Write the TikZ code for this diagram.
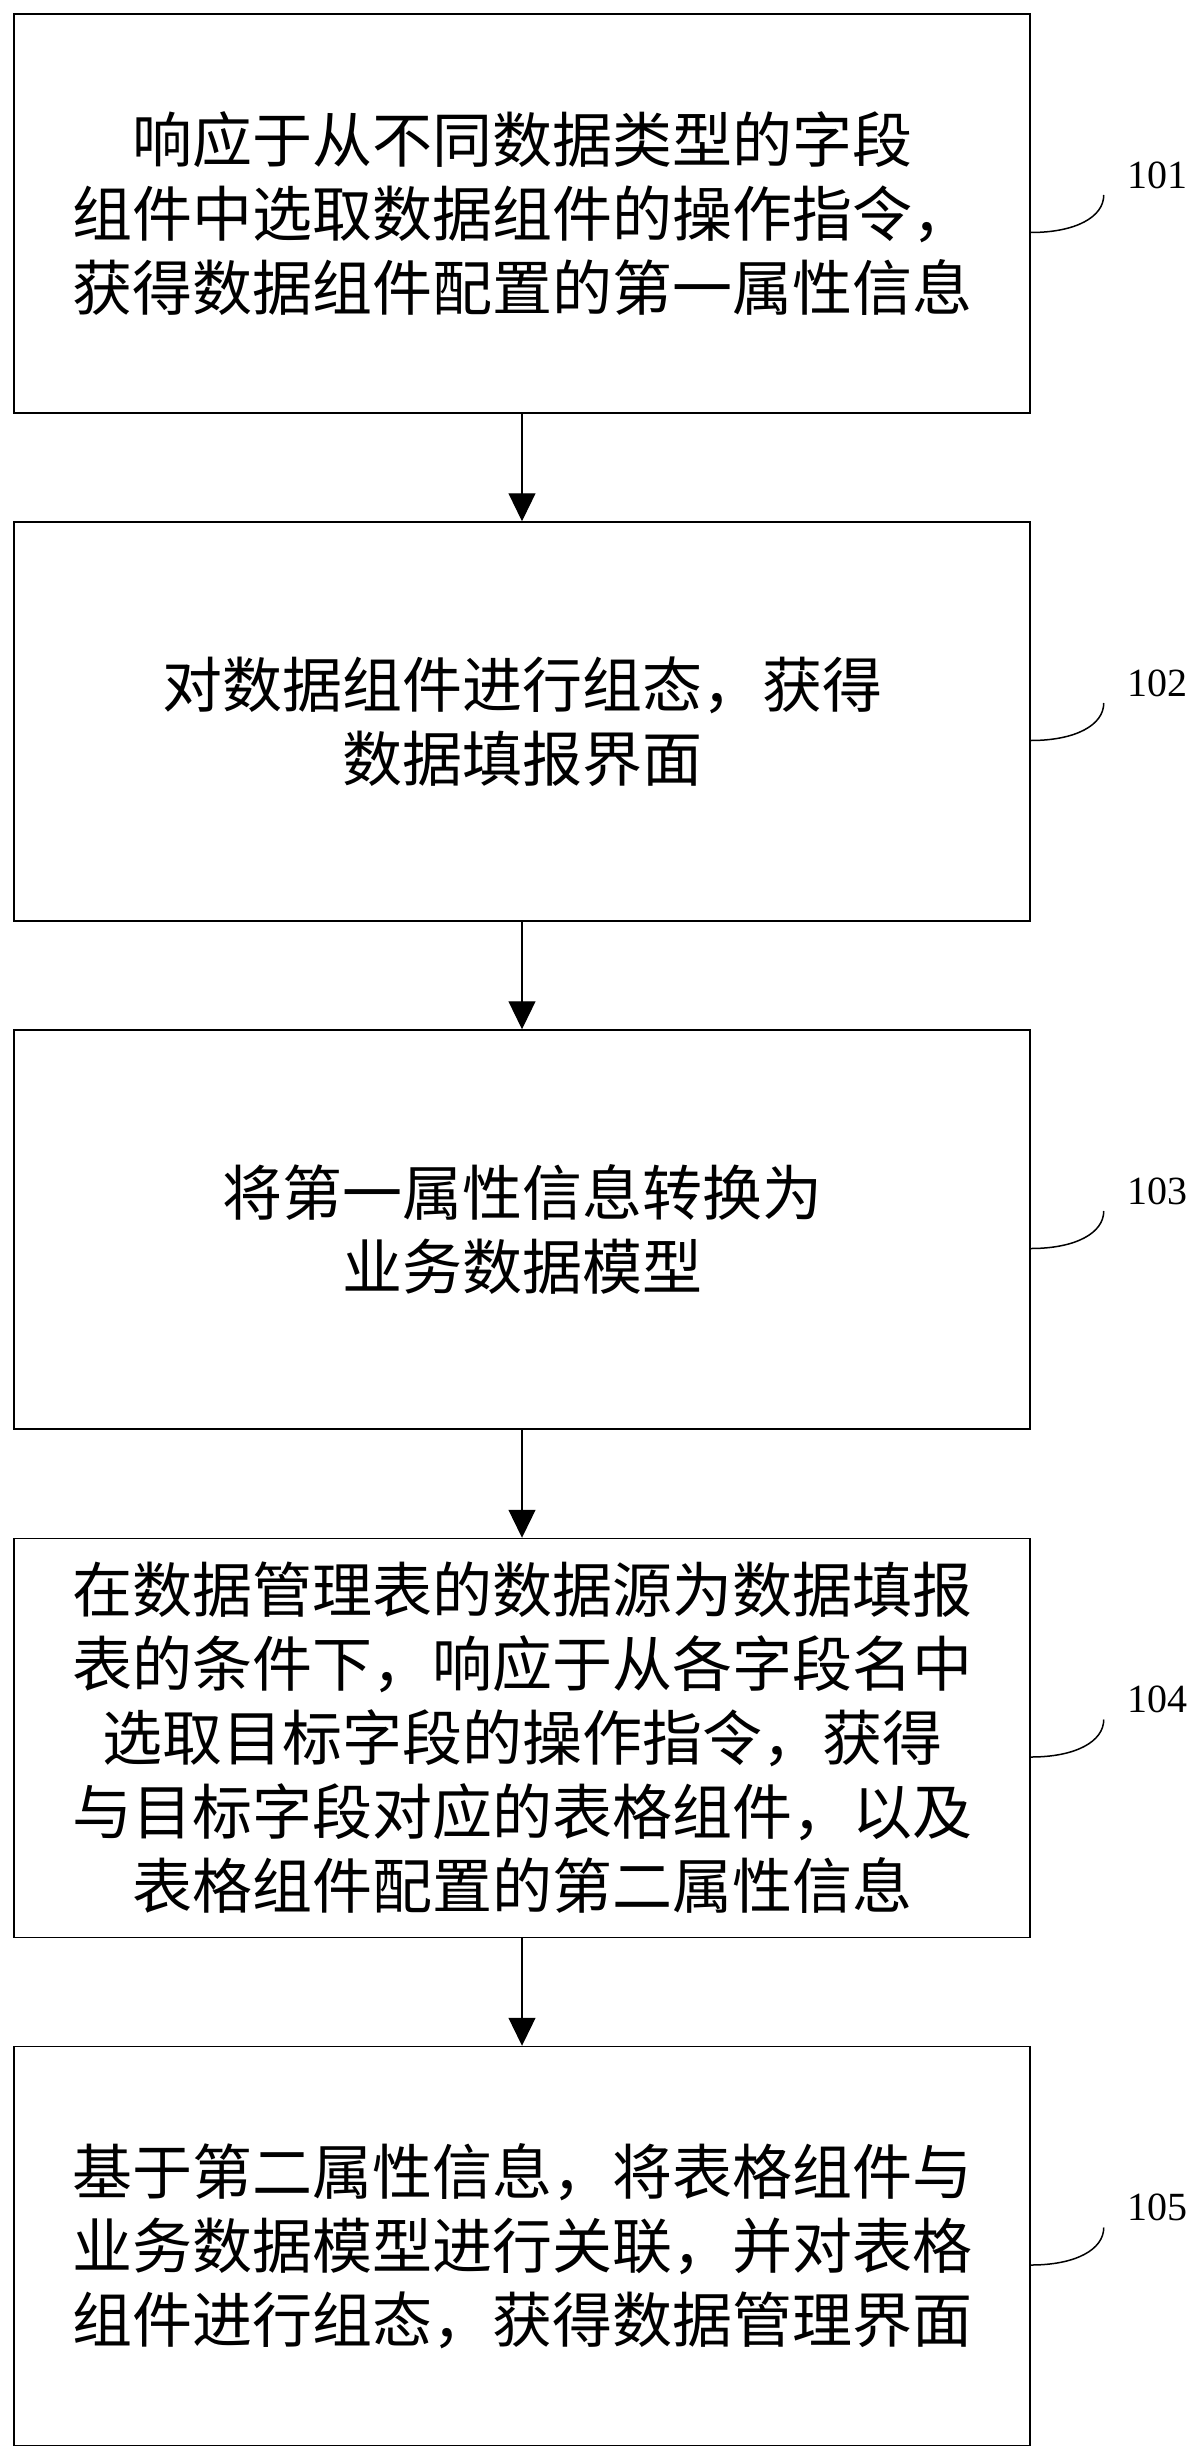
\documentclass[tikz,border=0pt]{standalone}
\usepackage{fontspec}
\setmainfont{Liberation Serif}
\newfontfamily\cjk{Noto Sans CJK SC}
\usetikzlibrary{arrows.meta}
\tikzset{
  stepbox/.style={draw=black, line width=1.5pt, minimum width=1016pt, minimum height=399pt,
    inner sep=0pt, align=center, font=\cjk\fontsize{60}{74}\selectfont},
  flowarrow/.style={draw=black, line width=1.2pt, -{Triangle[width=27pt,length=28pt]}},
  leader/.style={draw=black, line width=1.5pt},
  steplabel/.style={font=\fontsize{40}{40}\selectfont, inner sep=0pt}
}
\begin{document}
\begin{tikzpicture}
\useasboundingbox (0,0) rectangle (1199pt,-2459pt);
\fill[white] (0,0) rectangle (1199pt,-2459pt);
\node[stepbox] (b1) at (522pt,-213.5pt) {响应于从不同数据类型的字段\\组件中选取数据组件的操作指令，\\获得数据组件配置的第一属性信息};
\node[stepbox] (b2) at (522pt,-721.5pt) {对数据组件进行组态，获得\\数据填报界面};
\node[stepbox] (b3) at (522pt,-1229.5pt) {将第一属性信息转换为\\业务数据模型};
\node[stepbox] (b4) at (522pt,-1738pt) {在数据管理表的数据源为数据填报\\表的条件下，响应于从各字段名中\\选取目标字段的操作指令，获得\\与目标字段对应的表格组件，以及\\表格组件配置的第二属性信息};
\node[stepbox] (b5) at (522pt,-2246pt) {基于第二属性信息，将表格组件与\\业务数据模型进行关联，并对表格\\组件进行组态，获得数据管理界面};
\foreach \b/\t in {b1/101,b2/102,b3/103,b4/104,b5/105}{
  \node[steplabel] (l\t) at ([xshift=127pt,yshift=38.5pt]\b.east) {\t};
  \coordinate (s\t) at ([yshift=-19pt]\b.east);
  \coordinate (e\t) at ([xshift=73pt,yshift=18.5pt]\b.east);
  \draw[leader] (s\t) .. controls +(45pt,0pt) and +(0pt,-22pt) .. (e\t);
}
\draw[flowarrow] (b1.south) -- (b2.north);
\draw[flowarrow] (b2.south) -- (b3.north);
\draw[flowarrow] (b3.south) -- (b4.north);
\draw[flowarrow] (b4.south) -- (b5.north);
\end{tikzpicture}
\end{document}
